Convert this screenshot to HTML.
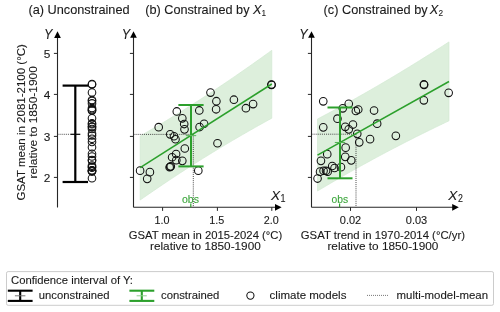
<!DOCTYPE html><html><head><meta charset="utf-8"><style>html,body{margin:0;padding:0;width:500px;height:312px;overflow:hidden;background:#fff}svg{will-change:transform}</style></head><body><svg width="500" height="312" viewBox="0 0 500 312" style="position:absolute;left:0;top:0;font-family:'Liberation Sans', sans-serif">
<rect width="500" height="312" fill="#fff"/>
<text x="28.4" y="14.4" font-size="12.4" text-anchor="start" fill="#1a1a1a" stroke="#1a1a1a" stroke-width="0.1" textLength="101.2" lengthAdjust="spacingAndGlyphs" >(a) Unconstrained</text>
<text x="145.3" y="14.3" font-size="12.4" text-anchor="start" fill="#1a1a1a" stroke="#1a1a1a" stroke-width="0.1" textLength="104.2" lengthAdjust="spacingAndGlyphs" >(b) Constrained by</text>
<text x="253.0" y="13.9" font-size="12.8" text-anchor="start" fill="#1a1a1a" stroke="#1a1a1a" stroke-width="0.1" font-style="italic" >X</text>
<text x="261.5" y="15.8" font-size="9.2" text-anchor="start" fill="#1a1a1a" stroke="#1a1a1a" stroke-width="0.1" textLength="4.6" lengthAdjust="spacingAndGlyphs" >1</text>
<text x="323.6" y="14.3" font-size="12.4" text-anchor="start" fill="#1a1a1a" stroke="#1a1a1a" stroke-width="0.1" textLength="104.0" lengthAdjust="spacingAndGlyphs" >(c) Constrained by</text>
<text x="429.8" y="13.9" font-size="12.8" text-anchor="start" fill="#1a1a1a" stroke="#1a1a1a" stroke-width="0.1" font-style="italic" >X</text>
<text x="438.5" y="15.8" font-size="9.2" text-anchor="start" fill="#1a1a1a" stroke="#1a1a1a" stroke-width="0.1" textLength="4.6" lengthAdjust="spacingAndGlyphs" >2</text>
<line x1="57.5" y1="207.5" x2="57.5" y2="36" stroke="#262626" stroke-width="1.1" />
<path d="M54.15,37.9 L60.85,37.9 L57.5,31.3 Z" fill="#000"/>
<line x1="53.9" y1="53.4" x2="57.5" y2="53.4" stroke="#262626" stroke-width="1.0" />
<text x="50.4" y="57.8" font-size="10.6" text-anchor="end" fill="#1a1a1a" stroke="#1a1a1a" stroke-width="0.1" textLength="6.6" lengthAdjust="spacingAndGlyphs" >5</text>
<line x1="53.9" y1="94.4" x2="57.5" y2="94.4" stroke="#262626" stroke-width="1.0" />
<text x="50.4" y="98.80000000000001" font-size="10.6" text-anchor="end" fill="#1a1a1a" stroke="#1a1a1a" stroke-width="0.1" textLength="6.6" lengthAdjust="spacingAndGlyphs" >4</text>
<line x1="53.9" y1="136.4" x2="57.5" y2="136.4" stroke="#262626" stroke-width="1.0" />
<text x="50.4" y="140.8" font-size="10.6" text-anchor="end" fill="#1a1a1a" stroke="#1a1a1a" stroke-width="0.1" textLength="6.6" lengthAdjust="spacingAndGlyphs" >3</text>
<line x1="53.9" y1="177.4" x2="57.5" y2="177.4" stroke="#262626" stroke-width="1.0" />
<text x="50.4" y="181.8" font-size="10.6" text-anchor="end" fill="#1a1a1a" stroke="#1a1a1a" stroke-width="0.1" textLength="6.6" lengthAdjust="spacingAndGlyphs" >2</text>
<text x="44.0" y="38.8" font-size="14.0" text-anchor="start" fill="#1a1a1a" stroke="#1a1a1a" stroke-width="0.1" font-style="italic" textLength="8.4" lengthAdjust="spacingAndGlyphs" >Y</text>
<g transform="translate(25.2,122.3) rotate(-90)"><text x="0" y="0" font-size="11.2" text-anchor="middle" fill="#1a1a1a" stroke="#1a1a1a" stroke-width="0.1" textLength="156.5" lengthAdjust="spacingAndGlyphs">GSAT mean in 2081-2100 (°C)</text></g>
<g transform="translate(37,122.3) rotate(-90)"><text x="0" y="0" font-size="11.2" text-anchor="middle" fill="#1a1a1a" stroke="#1a1a1a" stroke-width="0.1" textLength="112.5" lengthAdjust="spacingAndGlyphs">relative to 1850-1900</text></g>
<line x1="57.5" y1="134.3" x2="70" y2="134.3" stroke="#333" stroke-width="0.9" stroke-dasharray="1 1.08"/>
<line x1="62.599999999999994" y1="85.6" x2="88.0" y2="85.6" stroke="#000" stroke-width="2.2" />
<line x1="62.599999999999994" y1="182.0" x2="88.0" y2="182.0" stroke="#000" stroke-width="2.2" />
<line x1="75.3" y1="85.6" x2="75.3" y2="182.0" stroke="#000" stroke-width="2.2" />
<line x1="70.3" y1="134.3" x2="80.3" y2="134.3" stroke="#000" stroke-width="1.2" />
<circle cx="92.0" cy="84.1" r="3.8" fill="none" stroke="#111" stroke-width="1.05"/>
<circle cx="92.0" cy="84.5" r="3.8" fill="none" stroke="#111" stroke-width="1.05"/>
<circle cx="92.0" cy="92.5" r="3.8" fill="none" stroke="#111" stroke-width="1.05"/>
<circle cx="92.0" cy="100" r="3.8" fill="none" stroke="#111" stroke-width="1.05"/>
<circle cx="92.0" cy="101" r="3.8" fill="none" stroke="#111" stroke-width="1.05"/>
<circle cx="92.0" cy="103.4" r="3.8" fill="none" stroke="#111" stroke-width="1.05"/>
<circle cx="92.0" cy="108" r="3.8" fill="none" stroke="#111" stroke-width="1.05"/>
<circle cx="92.0" cy="109.2" r="3.8" fill="none" stroke="#111" stroke-width="1.05"/>
<circle cx="92.0" cy="110.2" r="3.8" fill="none" stroke="#111" stroke-width="1.05"/>
<circle cx="92.0" cy="110.6" r="3.8" fill="none" stroke="#111" stroke-width="1.05"/>
<circle cx="92.0" cy="118.3" r="3.8" fill="none" stroke="#111" stroke-width="1.05"/>
<circle cx="92.0" cy="123.3" r="3.8" fill="none" stroke="#111" stroke-width="1.05"/>
<circle cx="92.0" cy="124.2" r="3.8" fill="none" stroke="#111" stroke-width="1.05"/>
<circle cx="92.0" cy="126.5" r="3.8" fill="none" stroke="#111" stroke-width="1.05"/>
<circle cx="92.0" cy="127" r="3.8" fill="none" stroke="#111" stroke-width="1.05"/>
<circle cx="92.0" cy="129" r="3.8" fill="none" stroke="#111" stroke-width="1.05"/>
<circle cx="92.0" cy="133.5" r="3.8" fill="none" stroke="#111" stroke-width="1.05"/>
<circle cx="92.0" cy="135.5" r="3.8" fill="none" stroke="#111" stroke-width="1.05"/>
<circle cx="92.0" cy="138.8" r="3.8" fill="none" stroke="#111" stroke-width="1.05"/>
<circle cx="92.0" cy="142" r="3.8" fill="none" stroke="#111" stroke-width="1.05"/>
<circle cx="92.0" cy="147.3" r="3.8" fill="none" stroke="#111" stroke-width="1.05"/>
<circle cx="92.0" cy="153.8" r="3.8" fill="none" stroke="#111" stroke-width="1.05"/>
<circle cx="92.0" cy="156.5" r="3.8" fill="none" stroke="#111" stroke-width="1.05"/>
<circle cx="92.0" cy="160" r="3.8" fill="none" stroke="#111" stroke-width="1.05"/>
<circle cx="92.0" cy="160.5" r="3.8" fill="none" stroke="#111" stroke-width="1.05"/>
<circle cx="92.0" cy="165.6" r="3.8" fill="none" stroke="#111" stroke-width="1.05"/>
<circle cx="92.0" cy="166.8" r="3.8" fill="none" stroke="#111" stroke-width="1.05"/>
<circle cx="92.0" cy="167.6" r="3.8" fill="none" stroke="#111" stroke-width="1.05"/>
<circle cx="92.0" cy="170.4" r="3.8" fill="none" stroke="#111" stroke-width="1.05"/>
<circle cx="92.0" cy="170.4" r="3.8" fill="none" stroke="#111" stroke-width="1.05"/>
<circle cx="92.0" cy="171.3" r="3.8" fill="none" stroke="#111" stroke-width="1.05"/>
<circle cx="92.0" cy="171.3" r="3.8" fill="none" stroke="#111" stroke-width="1.05"/>
<circle cx="92.0" cy="178.2" r="3.8" fill="none" stroke="#111" stroke-width="1.05"/>
<path d="M140.20,136.00 L143.49,134.11 L146.78,132.20 L150.07,130.28 L153.36,128.35 L156.65,126.41 L159.94,124.46 L163.23,122.49 L166.52,120.51 L169.81,118.52 L173.10,116.51 L176.39,114.49 L179.68,112.46 L182.97,110.42 L186.26,108.36 L189.55,106.29 L192.84,104.20 L196.13,102.10 L199.42,99.99 L202.71,97.86 L206.00,95.72 L209.29,93.57 L212.58,91.41 L215.87,89.23 L219.16,87.03 L222.45,84.83 L225.74,82.61 L229.03,80.38 L232.32,78.14 L235.61,75.88 L238.90,73.62 L242.19,71.34 L245.48,69.04 L248.77,66.74 L252.06,64.43 L255.35,62.10 L258.64,59.77 L261.93,57.42 L265.22,55.07 L268.51,52.70 L271.80,50.32 L271.80,118.18 L268.51,119.99 L265.22,121.81 L261.93,123.64 L258.64,125.48 L255.35,127.33 L252.06,129.20 L248.77,131.07 L245.48,132.96 L242.19,134.85 L238.90,136.76 L235.61,138.68 L232.32,140.61 L229.03,142.56 L225.74,144.51 L222.45,146.48 L219.16,148.47 L215.87,150.46 L212.58,152.47 L209.29,154.49 L206.00,156.53 L202.71,158.57 L199.42,160.64 L196.13,162.71 L192.84,164.80 L189.55,166.90 L186.26,169.02 L182.97,171.15 L179.68,173.29 L176.39,175.44 L173.10,177.61 L169.81,179.79 L166.52,181.99 L163.23,184.20 L159.94,186.42 L156.65,188.65 L153.36,190.90 L150.07,193.15 L146.78,195.42 L143.49,197.71 L140.20,200.00 Z" fill="#ddefdc" stroke="#d3e9d3" stroke-width="0.7"/>
<line x1="133.5" y1="134.4" x2="193.3" y2="134.4" stroke="#333" stroke-width="0.9" stroke-dasharray="1 1.08"/>
<line x1="193.3" y1="134.4" x2="193.3" y2="207.3" stroke="#333" stroke-width="0.9" stroke-dasharray="1 1.08"/>
<circle cx="271.4" cy="84.6" r="3.8" fill="none" stroke="#111" stroke-width="1.05"/>
<circle cx="271.6" cy="84.9" r="3.8" fill="none" stroke="#111" stroke-width="1.05"/>
<circle cx="210.5" cy="92.6" r="3.8" fill="none" stroke="#111" stroke-width="1.05"/>
<circle cx="233.9" cy="99.7" r="3.8" fill="none" stroke="#111" stroke-width="1.05"/>
<circle cx="216.4" cy="101.2" r="3.8" fill="none" stroke="#111" stroke-width="1.05"/>
<circle cx="253.1" cy="104.1" r="3.8" fill="none" stroke="#111" stroke-width="1.05"/>
<circle cx="245.9" cy="108.2" r="3.8" fill="none" stroke="#111" stroke-width="1.05"/>
<circle cx="216.1" cy="109.3" r="3.8" fill="none" stroke="#111" stroke-width="1.05"/>
<circle cx="199.3" cy="110.45" r="3.8" fill="none" stroke="#111" stroke-width="1.05"/>
<circle cx="176.8" cy="111.45" r="3.8" fill="none" stroke="#111" stroke-width="1.05"/>
<circle cx="182.3" cy="118.35000000000001" r="3.8" fill="none" stroke="#111" stroke-width="1.05"/>
<circle cx="204.10000000000002" cy="123.75" r="3.8" fill="none" stroke="#111" stroke-width="1.05"/>
<circle cx="184.20000000000002" cy="124.05" r="3.8" fill="none" stroke="#111" stroke-width="1.05"/>
<circle cx="199.60000000000002" cy="127.05" r="3.8" fill="none" stroke="#111" stroke-width="1.05"/>
<circle cx="158.70000000000002" cy="127.15" r="3.8" fill="none" stroke="#111" stroke-width="1.05"/>
<circle cx="184.5" cy="129.35" r="3.8" fill="none" stroke="#111" stroke-width="1.05"/>
<circle cx="170.20000000000002" cy="134.35" r="3.8" fill="none" stroke="#111" stroke-width="1.05"/>
<circle cx="174.0" cy="136.25" r="3.8" fill="none" stroke="#111" stroke-width="1.05"/>
<circle cx="175.5" cy="139.25" r="3.8" fill="none" stroke="#111" stroke-width="1.05"/>
<circle cx="217.5" cy="143.25" r="3.8" fill="none" stroke="#111" stroke-width="1.05"/>
<circle cx="184.8" cy="148.45" r="3.8" fill="none" stroke="#111" stroke-width="1.05"/>
<circle cx="176.10000000000002" cy="153.95" r="3.8" fill="none" stroke="#111" stroke-width="1.05"/>
<circle cx="172.10000000000002" cy="157.25" r="3.8" fill="none" stroke="#111" stroke-width="1.05"/>
<circle cx="176.3" cy="160.14999999999998" r="3.8" fill="none" stroke="#111" stroke-width="1.05"/>
<circle cx="182.3" cy="160.85" r="3.8" fill="none" stroke="#111" stroke-width="1.05"/>
<circle cx="169.60000000000002" cy="167.25" r="3.8" fill="none" stroke="#111" stroke-width="1.05"/>
<circle cx="170.20000000000002" cy="166.75" r="3.8" fill="none" stroke="#111" stroke-width="1.05"/>
<circle cx="170.8" cy="166.35" r="3.8" fill="none" stroke="#111" stroke-width="1.05"/>
<circle cx="140.10000000000002" cy="170.64999999999998" r="3.8" fill="none" stroke="#111" stroke-width="1.05"/>
<circle cx="198.3" cy="170.64999999999998" r="3.8" fill="none" stroke="#111" stroke-width="1.05"/>
<circle cx="149.9" cy="172.14999999999998" r="3.8" fill="none" stroke="#111" stroke-width="1.05"/>
<circle cx="147.20000000000002" cy="178.85" r="3.8" fill="none" stroke="#111" stroke-width="1.05"/>
<line x1="140.2" y1="167.6" x2="271.8" y2="84.0" stroke="#2ca02c" stroke-width="1.5" />
<line x1="178.4" y1="105.0" x2="203.6" y2="105.0" stroke="#2ca02c" stroke-width="2.0" />
<line x1="178.4" y1="166.4" x2="203.6" y2="166.4" stroke="#2ca02c" stroke-width="2.0" />
<line x1="191.0" y1="105.0" x2="191.0" y2="166.4" stroke="#2ca02c" stroke-width="2.0" />
<line x1="185.8" y1="135.6" x2="196.2" y2="135.6" stroke="#60ba60" stroke-width="1.1" />
<line x1="133.5" y1="207.3" x2="133.5" y2="36" stroke="#262626" stroke-width="1.1" />
<path d="M130.15,37.8 L136.85,37.8 L133.5,31.2 Z" fill="#000"/>
<line x1="133.5" y1="207.3" x2="276" y2="207.3" stroke="#262626" stroke-width="1.1" />
<path d="M275.0,203.95000000000002 L275.0,210.65 L281.6,207.3 Z" fill="#000"/>
<line x1="129.9" y1="53.4" x2="133.5" y2="53.4" stroke="#262626" stroke-width="1.0" />
<line x1="129.9" y1="94.4" x2="133.5" y2="94.4" stroke="#262626" stroke-width="1.0" />
<line x1="129.9" y1="136.4" x2="133.5" y2="136.4" stroke="#262626" stroke-width="1.0" />
<line x1="129.9" y1="177.4" x2="133.5" y2="177.4" stroke="#262626" stroke-width="1.0" />
<line x1="162.6" y1="207.3" x2="162.6" y2="210.9" stroke="#262626" stroke-width="1.0" />
<text x="162.0" y="223.9" font-size="10.6" text-anchor="middle" fill="#1a1a1a" stroke="#1a1a1a" stroke-width="0.1" textLength="15.0" lengthAdjust="spacingAndGlyphs" >1.0</text>
<line x1="217.4" y1="207.3" x2="217.4" y2="210.9" stroke="#262626" stroke-width="1.0" />
<text x="216.8" y="223.9" font-size="10.6" text-anchor="middle" fill="#1a1a1a" stroke="#1a1a1a" stroke-width="0.1" textLength="15.0" lengthAdjust="spacingAndGlyphs" >1.5</text>
<line x1="271.8" y1="207.3" x2="271.8" y2="210.9" stroke="#262626" stroke-width="1.0" />
<text x="271.2" y="223.9" font-size="10.6" text-anchor="middle" fill="#1a1a1a" stroke="#1a1a1a" stroke-width="0.1" textLength="15.0" lengthAdjust="spacingAndGlyphs" >2.0</text>
<line x1="190.8" y1="203.6" x2="190.8" y2="207.3" stroke="#2ca02c" stroke-width="1.2" />
<text x="190.5" y="202.8" font-size="10.8" text-anchor="middle" fill="#3aa53a" stroke="#3aa53a" stroke-width="0.1" textLength="17.0" lengthAdjust="spacingAndGlyphs" >obs</text>
<text x="121.8" y="38.8" font-size="14.0" text-anchor="start" fill="#1a1a1a" stroke="#1a1a1a" stroke-width="0.1" font-style="italic" textLength="8.4" lengthAdjust="spacingAndGlyphs" >Y</text>
<text x="271.0" y="199.8" font-size="13.6" text-anchor="start" fill="#1a1a1a" stroke="#1a1a1a" stroke-width="0.1" font-style="italic" >X</text>
<text x="280.4" y="201.7" font-size="10.0" text-anchor="start" fill="#1a1a1a" stroke="#1a1a1a" stroke-width="0.1" textLength="5.0" lengthAdjust="spacingAndGlyphs" >1</text>
<text x="205.5" y="238.9" font-size="11.2" text-anchor="middle" fill="#1a1a1a" stroke="#1a1a1a" stroke-width="0.1" textLength="153.5" lengthAdjust="spacingAndGlyphs" >GSAT mean in 2015-2024 (°C)</text>
<text x="205.4" y="249.6" font-size="11.2" text-anchor="middle" fill="#1a1a1a" stroke="#1a1a1a" stroke-width="0.1" textLength="110.8" lengthAdjust="spacingAndGlyphs" >relative to 1850-1900</text>
<path d="M317.50,119.00 L320.79,117.28 L324.07,115.55 L327.36,113.81 L330.65,112.06 L333.94,110.30 L337.23,108.53 L340.51,106.74 L343.80,104.95 L347.09,103.14 L350.38,101.33 L353.66,99.50 L356.95,97.66 L360.24,95.81 L363.52,93.95 L366.81,92.08 L370.10,90.19 L373.39,88.30 L376.68,86.39 L379.96,84.48 L383.25,82.55 L386.54,80.61 L389.82,78.66 L393.11,76.70 L396.40,74.73 L399.69,72.75 L402.98,70.76 L406.26,68.76 L409.55,66.75 L412.84,64.73 L416.12,62.70 L419.41,60.66 L422.70,58.61 L425.99,56.56 L429.27,54.49 L432.56,52.41 L435.85,50.33 L439.14,48.23 L442.43,46.13 L445.71,44.02 L449.00,41.90 L449.00,120.80 L445.71,122.36 L442.43,123.93 L439.14,125.51 L435.85,127.10 L432.56,128.70 L429.27,130.31 L425.99,131.92 L422.70,133.55 L419.41,135.18 L416.12,136.82 L412.84,138.47 L409.55,140.14 L406.26,141.81 L402.98,143.49 L399.69,145.18 L396.40,146.89 L393.11,148.60 L389.82,150.32 L386.54,152.06 L383.25,153.80 L379.96,155.56 L376.68,157.32 L373.39,159.10 L370.10,160.89 L366.81,162.69 L363.52,164.50 L360.24,166.32 L356.95,168.15 L353.66,169.99 L350.38,171.85 L347.09,173.71 L343.80,175.59 L340.51,177.48 L337.23,179.38 L333.94,181.29 L330.65,183.21 L327.36,185.14 L324.07,187.08 L320.79,189.04 L317.50,191.00 Z" fill="#ddefdc" stroke="#d3e9d3" stroke-width="0.7"/>
<line x1="311.5" y1="134.2" x2="356.0" y2="134.2" stroke="#333" stroke-width="0.9" stroke-dasharray="1 1.08"/>
<line x1="356.0" y1="134.2" x2="356.0" y2="207.3" stroke="#333" stroke-width="0.9" stroke-dasharray="1 1.08"/>
<circle cx="423.85" cy="84.44999999999999" r="3.8" fill="none" stroke="#111" stroke-width="1.05"/>
<circle cx="424.15" cy="84.85" r="3.8" fill="none" stroke="#111" stroke-width="1.05"/>
<circle cx="448.65" cy="92.85" r="3.8" fill="none" stroke="#111" stroke-width="1.05"/>
<circle cx="423.85" cy="100.35" r="3.8" fill="none" stroke="#111" stroke-width="1.05"/>
<circle cx="323.25" cy="101.35" r="3.8" fill="none" stroke="#111" stroke-width="1.05"/>
<circle cx="348.75" cy="103.75" r="3.8" fill="none" stroke="#111" stroke-width="1.05"/>
<circle cx="342.75" cy="108.35" r="3.8" fill="none" stroke="#111" stroke-width="1.05"/>
<circle cx="358.25" cy="109.55" r="3.8" fill="none" stroke="#111" stroke-width="1.05"/>
<circle cx="374.05" cy="110.55" r="3.8" fill="none" stroke="#111" stroke-width="1.05"/>
<circle cx="355.85" cy="110.94999999999999" r="3.8" fill="none" stroke="#111" stroke-width="1.05"/>
<circle cx="337.45" cy="118.64999999999999" r="3.8" fill="none" stroke="#111" stroke-width="1.05"/>
<circle cx="377.15" cy="123.64999999999999" r="3.8" fill="none" stroke="#111" stroke-width="1.05"/>
<circle cx="352.95" cy="124.55" r="3.8" fill="none" stroke="#111" stroke-width="1.05"/>
<circle cx="345.25" cy="126.85" r="3.8" fill="none" stroke="#111" stroke-width="1.05"/>
<circle cx="323.25" cy="127.35" r="3.8" fill="none" stroke="#111" stroke-width="1.05"/>
<circle cx="348.75" cy="129.35" r="3.8" fill="none" stroke="#111" stroke-width="1.05"/>
<circle cx="357.25" cy="133.85" r="3.8" fill="none" stroke="#111" stroke-width="1.05"/>
<circle cx="395.85" cy="135.85" r="3.8" fill="none" stroke="#111" stroke-width="1.05"/>
<circle cx="370.05" cy="139.15" r="3.8" fill="none" stroke="#111" stroke-width="1.05"/>
<circle cx="359.25" cy="142.35" r="3.8" fill="none" stroke="#111" stroke-width="1.05"/>
<circle cx="345.65" cy="147.65" r="3.8" fill="none" stroke="#111" stroke-width="1.05"/>
<circle cx="327.25" cy="154.15" r="3.8" fill="none" stroke="#111" stroke-width="1.05"/>
<circle cx="345.25" cy="156.85" r="3.8" fill="none" stroke="#111" stroke-width="1.05"/>
<circle cx="351.25" cy="160.35" r="3.8" fill="none" stroke="#111" stroke-width="1.05"/>
<circle cx="320.95" cy="160.85" r="3.8" fill="none" stroke="#111" stroke-width="1.05"/>
<circle cx="332.25" cy="165.95" r="3.8" fill="none" stroke="#111" stroke-width="1.05"/>
<circle cx="340.95" cy="167.15" r="3.8" fill="none" stroke="#111" stroke-width="1.05"/>
<circle cx="334.55" cy="167.95" r="3.8" fill="none" stroke="#111" stroke-width="1.05"/>
<circle cx="323.55" cy="170.75" r="3.8" fill="none" stroke="#111" stroke-width="1.05"/>
<circle cx="326.05" cy="170.75" r="3.8" fill="none" stroke="#111" stroke-width="1.05"/>
<circle cx="320.05" cy="171.65" r="3.8" fill="none" stroke="#111" stroke-width="1.05"/>
<circle cx="327.65" cy="171.65" r="3.8" fill="none" stroke="#111" stroke-width="1.05"/>
<circle cx="317.55" cy="178.54999999999998" r="3.8" fill="none" stroke="#111" stroke-width="1.05"/>
<line x1="317.5" y1="155.2" x2="449.0" y2="81.5" stroke="#2ca02c" stroke-width="1.5" />
<line x1="327.5" y1="107.5" x2="352.5" y2="107.5" stroke="#2ca02c" stroke-width="2.0" />
<line x1="327.5" y1="178.3" x2="352.5" y2="178.3" stroke="#2ca02c" stroke-width="2.0" />
<line x1="340.0" y1="107.5" x2="340.0" y2="178.3" stroke="#2ca02c" stroke-width="2.0" />
<line x1="334.8" y1="142.5" x2="345.2" y2="142.5" stroke="#55b555" stroke-width="1.1" />
<line x1="311.5" y1="207.3" x2="311.5" y2="36" stroke="#262626" stroke-width="1.1" />
<path d="M308.15,37.8 L314.85,37.8 L311.5,31.2 Z" fill="#000"/>
<line x1="311.5" y1="207.3" x2="453" y2="207.3" stroke="#262626" stroke-width="1.1" />
<path d="M452.2,203.95000000000002 L452.2,210.65 L458.8,207.3 Z" fill="#000"/>
<line x1="307.9" y1="53.4" x2="311.5" y2="53.4" stroke="#262626" stroke-width="1.0" />
<line x1="307.9" y1="94.4" x2="311.5" y2="94.4" stroke="#262626" stroke-width="1.0" />
<line x1="307.9" y1="136.4" x2="311.5" y2="136.4" stroke="#262626" stroke-width="1.0" />
<line x1="307.9" y1="177.4" x2="311.5" y2="177.4" stroke="#262626" stroke-width="1.0" />
<line x1="350.5" y1="207.3" x2="350.5" y2="210.9" stroke="#262626" stroke-width="1.0" />
<text x="350.5" y="223.9" font-size="10.6" text-anchor="middle" fill="#1a1a1a" stroke="#1a1a1a" stroke-width="0.1" textLength="21.4" lengthAdjust="spacingAndGlyphs" >0.02</text>
<line x1="416.5" y1="207.3" x2="416.5" y2="210.9" stroke="#262626" stroke-width="1.0" />
<text x="416.5" y="223.9" font-size="10.6" text-anchor="middle" fill="#1a1a1a" stroke="#1a1a1a" stroke-width="0.1" textLength="21.4" lengthAdjust="spacingAndGlyphs" >0.03</text>
<line x1="339.6" y1="203.6" x2="339.6" y2="207.3" stroke="#2ca02c" stroke-width="1.2" />
<text x="339.9" y="202.8" font-size="10.8" text-anchor="middle" fill="#3aa53a" stroke="#3aa53a" stroke-width="0.1" textLength="16.6" lengthAdjust="spacingAndGlyphs" >obs</text>
<text x="299.3" y="38.8" font-size="14.0" text-anchor="start" fill="#1a1a1a" stroke="#1a1a1a" stroke-width="0.1" font-style="italic" textLength="8.4" lengthAdjust="spacingAndGlyphs" >Y</text>
<text x="448.3" y="199.8" font-size="13.6" text-anchor="start" fill="#1a1a1a" stroke="#1a1a1a" stroke-width="0.1" font-style="italic" >X</text>
<text x="457.9" y="201.9" font-size="10.0" text-anchor="start" fill="#1a1a1a" stroke="#1a1a1a" stroke-width="0.1" textLength="4.9" lengthAdjust="spacingAndGlyphs" >2</text>
<text x="382.9" y="238.9" font-size="11.2" text-anchor="middle" fill="#1a1a1a" stroke="#1a1a1a" stroke-width="0.1" textLength="164.2" lengthAdjust="spacingAndGlyphs" >GSAT trend in 1970-2014 (°C/yr)</text>
<text x="382.9" y="249.6" font-size="11.2" text-anchor="middle" fill="#1a1a1a" stroke="#1a1a1a" stroke-width="0.1" textLength="111" lengthAdjust="spacingAndGlyphs" >relative to 1850-1900</text>
<rect x="6.5" y="271.6" width="487.0" height="33.7" rx="1.6" ry="1.6" fill="#fff" stroke="#cccccc" stroke-width="1"/>
<text x="11.0" y="283.8" font-size="11.3" text-anchor="start" fill="#1a1a1a" stroke="#1a1a1a" stroke-width="0.1" textLength="122" lengthAdjust="spacingAndGlyphs" >Confidence interval of Y:</text>
<line x1="7.8" y1="290.7" x2="32.6" y2="290.7" stroke="#000" stroke-width="2.1" />
<line x1="7.8" y1="300.9" x2="32.6" y2="300.9" stroke="#000" stroke-width="2.1" />
<line x1="20.2" y1="290.7" x2="20.2" y2="300.9" stroke="#000" stroke-width="2.1" />
<line x1="14.9" y1="295.8" x2="25.4" y2="295.8" stroke="#777" stroke-width="1.0" />
<text x="38.8" y="299.4" font-size="11.3" text-anchor="start" fill="#1a1a1a" stroke="#1a1a1a" stroke-width="0.1" textLength="70.8" lengthAdjust="spacingAndGlyphs" >unconstrained</text>
<line x1="129.4" y1="290.7" x2="154.3" y2="290.7" stroke="#2ca02c" stroke-width="2.1" />
<line x1="129.4" y1="300.9" x2="154.3" y2="300.9" stroke="#2ca02c" stroke-width="2.1" />
<line x1="141.8" y1="290.7" x2="141.8" y2="300.9" stroke="#2ca02c" stroke-width="2.1" />
<line x1="136.6" y1="295.8" x2="146.8" y2="295.8" stroke="#8fcf8f" stroke-width="1.0" />
<text x="161.0" y="299.4" font-size="11.3" text-anchor="start" fill="#1a1a1a" stroke="#1a1a1a" stroke-width="0.1" textLength="58.4" lengthAdjust="spacingAndGlyphs" >constrained</text>
<circle cx="250.4" cy="295.6" r="3.6" fill="none" stroke="#111" stroke-width="1.05"/>
<text x="269.6" y="299.4" font-size="11.3" text-anchor="start" fill="#1a1a1a" stroke="#1a1a1a" stroke-width="0.1" textLength="76.8" lengthAdjust="spacingAndGlyphs" >climate models</text>
<line x1="367" y1="295.4" x2="388.4" y2="295.4" stroke="#555" stroke-width="0.8" stroke-dasharray="1 1"/>
<text x="396.6" y="299.4" font-size="11.3" text-anchor="start" fill="#1a1a1a" stroke="#1a1a1a" stroke-width="0.1" textLength="91.5" lengthAdjust="spacingAndGlyphs" >multi-model-mean</text>
</svg></body></html>
